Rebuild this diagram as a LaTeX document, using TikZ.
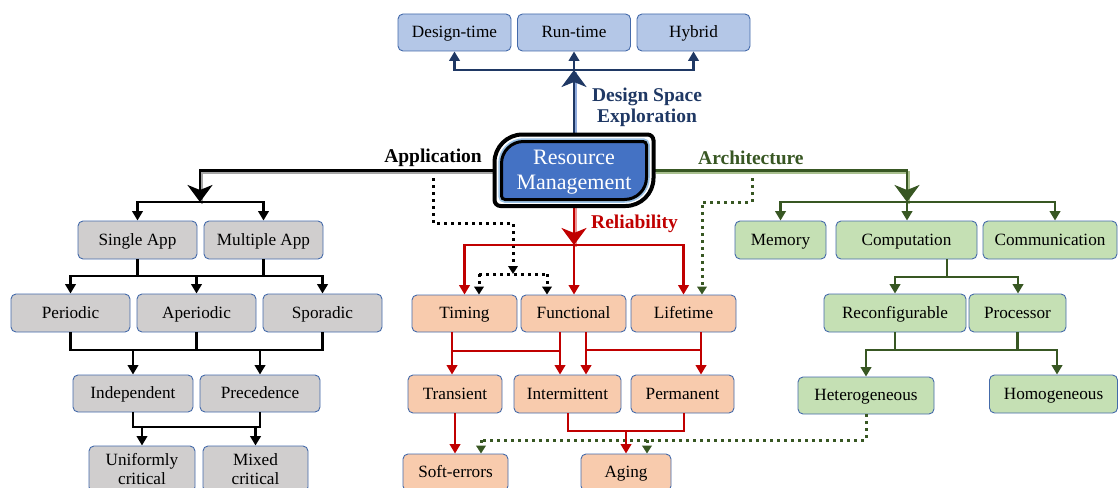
\documentclass[tikz,border=0pt]{standalone}
\usepackage{fontspec}
\setmainfont{Liberation Serif}
\usetikzlibrary{arrows.meta}

\definecolor{navy}{RGB}{31,56,100}
\definecolor{navylt}{RGB}{143,170,220}
\definecolor{rel}{RGB}{192,0,0}
\definecolor{rellt}{RGB}{235,150,150}
\definecolor{arch}{RGB}{56,87,35}
\definecolor{archlt}{RGB}{169,192,143}
\definecolor{applt}{RGB}{165,165,165}
\definecolor{edge}{RGB}{68,106,170}
\definecolor{fillblue}{HTML}{B4C7E7}
\definecolor{fillgray}{HTML}{D0CECE}
\definecolor{fillorange}{HTML}{F8CBAD}
\definecolor{fillgreen}{HTML}{C5E0B4}
\definecolor{rmblue}{HTML}{4472C4}
\definecolor{rmring}{RGB}{157,195,230}

\tikzset{
  tri/.tip={Triangle[width=10.5pt,length=9.5pt]},
  dtri/.tip={Triangle[width=9.5pt,length=8pt]},
  big/.tip={Stealth[width=25pt,length=17pt,inset=5pt]},
  boxbase/.style={draw=edge, line width=0.9pt, rounded corners=5pt,
    minimum height=37pt, inner sep=0pt, align=center,
    font=\fontsize{17.2}{19.5}\selectfont},
  box/.style={boxbase, text height=11.5pt, text depth=0.8pt},
  bluebox/.style={box, fill=fillblue},
  graybox/.style={box, fill=fillgray},
  orangebox/.style={box, fill=fillorange},
  greenbox/.style={box, fill=fillgreen},
  link/.style={line width=2.8pt, -tri},
  plainlink/.style={line width=2.8pt},
  twin/.style={line width=2.8pt, -big,
    preaction={draw=#1, line width=2.4pt, arrows=-,
      transform canvas={shift={(1.8,1.8)}}}},
  dotlink/.style={line width=3pt, dash pattern=on 3pt off 4pt, -dtri},
  dotline/.style={line width=3pt, dash pattern=on 3pt off 4pt},
  branchlabel/.style={font=\fontsize{19.5}{21}\selectfont\bfseries, inner sep=0pt}
}

\begin{document}
\begin{tikzpicture}[x=1pt,y=-1pt]
\useasboundingbox (0,0) rectangle (1118,487);

% ---------- boxes ----------
% design space exploration
\node[bluebox, minimum width=113pt] (dt) at (454.5,32.5) {Design-time};
\node[bluebox, minimum width=113pt] (rt) at (574,32.5) {Run-time};
\node[bluebox, minimum width=113pt] (hy) at (693.5,32.5) {Hybrid};

% application
\node[graybox, minimum width=119pt, minimum height=38pt] (sa) at (137.5,240) {Single App};
\node[graybox, minimum width=119pt, minimum height=38pt] (ma) at (263.5,240) {Multiple App};
\node[graybox, minimum width=119pt, minimum height=38pt] (pe) at (70.5,313) {Periodic};
\node[graybox, minimum width=119pt, minimum height=38pt] (ap) at (196.5,313) {Aperiodic};
\node[graybox, minimum width=119pt, minimum height=38pt] (sp) at (322.5,313) {Sporadic};
\node[graybox, minimum width=120pt] (ind) at (133,393.5) {Independent};
\node[graybox, minimum width=120pt] (pre) at (260,393.5) {Precedence};
\node[boxbase, fill=fillgray, minimum width=106pt, minimum height=46pt] (uc) at (142,469) {Uniformly\\critical};
\node[boxbase, fill=fillgray, minimum width=105pt, minimum height=46pt] (mc) at (255.5,469) {Mixed\\critical};

% reliability
\node[orangebox, minimum width=105pt] (ti) at (464.5,313.5) {Timing};
\node[orangebox, minimum width=105pt] (fu) at (573.5,313.5) {Functional};
\node[orangebox, minimum width=105pt] (li) at (683.5,313.5) {Lifetime};
\node[orangebox, minimum width=94pt, minimum height=38pt] (tr) at (455,394) {Transient};
\node[orangebox, minimum width=107pt, minimum height=38pt] (im) at (567.5,394) {Intermittent};
\node[orangebox, minimum width=103pt, minimum height=38pt] (pm) at (682.5,394) {Permanent};
\node[orangebox, minimum width=105pt] (se) at (455.5,472.5) {Soft-errors};
\node[orangebox, minimum width=90pt] (ag) at (626,472.5) {Aging};

% architecture
\node[greenbox, minimum width=91pt, minimum height=38pt] (me) at (780.5,240) {Memory};
\node[greenbox, minimum width=141pt, minimum height=38pt] (co) at (906.5,240) {Computation};
\node[greenbox, minimum width=134pt, minimum height=38pt] (cm) at (1050,240) {Communication};
\node[greenbox, minimum width=142pt, minimum height=38pt] (rc) at (895,313) {Reconfigurable};
\node[greenbox, minimum width=97pt, minimum height=38pt] (pr) at (1017.5,313) {Processor};
\node[greenbox, minimum width=136pt] (he) at (866,395.5) {Heterogeneous};
\node[greenbox, minimum width=128pt, minimum height=38pt] (ho) at (1053.5,394) {Homogeneous};

% central node (its outline is drawn further below)
\node[minimum width=159pt, minimum height=71.5pt, inner sep=0pt] (rm) at (574,170.5) {};

% ---------- dotted cross links ----------
\coordinate (d1) at (433,171);
\coordinate (d2) at (433,223);
\coordinate (d3) at (513,223);
\coordinate (d4) at (513,274);
\coordinate (d5) at (479,274);
\coordinate (d6) at (547,274);
\draw[dotlink, black] (d1) -- (d2) -- (d3) -- (d4);
\draw[dotline, black] (d5) -- (d6);
\draw[dotlink, black] (d5) -- (ti.north -| d5);
\draw[dotlink, black] (d6) -- (fu.north -| d6);

\coordinate (g1) at (752,171);
\coordinate (g2) at (752,202);
\coordinate (g3) at (702,202);
\draw[dotlink, arch] (g1) -- (g2) -- (g3) -- (li.north -| g3);

\coordinate (g4) at (866,440);
\coordinate (g5) at (481,440);
\coordinate (g6) at (647,440);
\draw[dotline, arch] (he.south) -- (g4) -- (g5);
\draw[dotlink, arch] (g5) -- (se.north -| g5);
\draw[dotlink, arch] (g6) -- (ag.north -| g6);

% ---------- design space exploration ----------
\coordinate (dsej) at (574,70);
\draw[twin=navylt, navy] (rm.north) -- (dsej);
\draw[link, navy] (dsej) -- (rt.south);
\draw[link, navy] (dsej) -| (dt.south);
\draw[link, navy] (dsej) -| (hy.south);
\node[branchlabel, navy, align=center] (dselabel) at (647,107.5) {Design Space\\Exploration};

% ---------- application ----------
\coordinate (appj) at (200,202);
\draw[twin=applt, black] (rm.west) -| (appj);
\draw[link, black] (appj) -| (sa.north);
\draw[link, black] (appj) -| (ma.north);
\node[branchlabel, black, anchor=east] (applabel) at (482,158) {Application};

\coordinate (b2) at (196.5,276);
\draw[plainlink, black] (sa.south) -- (sa.south |- b2);
\draw[plainlink, black] (ma.south) -- (ma.south |- b2);
\draw[link, black] (b2) -| (pe.north);
\draw[link, black] (b2) -| (sp.north);
\draw[link, black] (b2) -- (ap.north);

\coordinate (b3) at (196.5,350);
\draw[plainlink, black] (pe.south) |- (sp.south |- b3) -- (sp.south);
\draw[plainlink, black] (ap.south) -- (b3);
\draw[link, black] (ind.north |- b3) -- (ind.north);
\draw[link, black] (pre.north |- b3) -- (pre.north);

\coordinate (b4) at (196,427);
\draw[plainlink, black] (ind.south) |- (b4) -| (pre.south);
\draw[link, black] (uc.north |- b4) -- (uc.north);
\draw[link, black] (mc.north |- b4) -- (mc.north);

% ---------- reliability ----------
\coordinate (relj) at (574,245);
\draw[twin=rellt, rel] (rm.south) -- (relj);
\draw[link, rel] (relj) -| (ti.north);
\draw[link, rel] (relj) -- (relj |- fu.north);
\draw[link, rel] (relj) -| (li.north);
\node[branchlabel, rel, anchor=west] (rellabel) at (591,224) {Reliability};

\coordinate (r1) at (452,351);
\coordinate (r2) at (560,351);
\draw[plainlink, rel] (ti.south -| r1) -- (r1) -- (r2);
\draw[link, rel] (r1) -- (tr.north -| r1);
\draw[link, rel] (fu.south -| r2) -- (im.north -| r2);

\coordinate (r3) at (586,350);
\coordinate (r4) at (701,350);
\draw[plainlink, rel] (r3) -- (r4) -- (li.south -| r4);
\draw[link, rel] (fu.south -| r3) -- (im.north -| r3);
\draw[link, rel] (r4) -- (pm.north -| r4);

\draw[link, rel] (tr.south) -- (tr.south |- se.north);

\coordinate (r5) at (568,431);
\coordinate (r6) at (684,431);
\draw[plainlink, rel] (im.south -| r5) -- (r5) -- (r6) -- (pm.south -| r6);
\draw[link, rel] (ag.north |- r5) -- (ag.north);

% ---------- architecture ----------
\coordinate (archj) at (907,202);
\coordinate (a3) at (1055,202);
\draw[twin=archlt, arch] (rm.east) -| (archj);
\draw[link, arch] (archj) -| (me.north);
\draw[link, arch] (archj) -- (archj |- co.north);
\draw[link, arch] (archj) -- (a3) -- (a3 |- cm.north);
\node[branchlabel, arch, anchor=west] (archlabel) at (698,158) {Architecture};

\coordinate (c1) at (947,277);
\coordinate (c2) at (895,277);
\coordinate (c3) at (1018,277);
\draw[plainlink, arch] (co.south -| c1) -- (c1);
\draw[link, arch] (c1) -- (c2) -- (rc.north -| c2);
\draw[link, arch] (c1) -- (c3) -- (pr.north -| c3);

\coordinate (h1) at (866,350);
\coordinate (h2) at (1057,350);
\draw[plainlink, arch] (rc.south) -- (rc.south |- h1);
\draw[plainlink, arch] (pr.south) -- (pr.south |- h1);
\draw[link, arch] (rc.south |- h1) -- (h1) -- (he.north -| h1);
\draw[link, arch] (rc.south |- h1) -- (h2) -- (ho.north -| h2);

% ---------- central resource management node ----------
% outer ring: large rounding top-left and bottom-right
\draw[black, line width=4pt, fill=white]
  (522.5,134.5) -- (647.5,134.5)
  .. controls (650.8,134.5) and (653.5,137.2) .. (653.5,140.5)
  -- (653.5,178)
  .. controls (653.5,193.5) and (641,206) .. (625.5,206)
  -- (500.5,206)
  .. controls (497.2,206) and (494.5,203.3) .. (494.5,200)
  -- (494.5,162.5)
  .. controls (494.5,147) and (507,134.5) .. (522.5,134.5) -- cycle;
% inner body
\draw[black, line width=3pt, fill=rmblue,
      preaction={draw=rmring, line width=6.5pt}]
  (523.5,141.5) -- (643,141.5)
  .. controls (644.9,141.5) and (646.5,143.1) .. (646.5,145)
  -- (646.5,177.5)
  .. controls (646.5,189.7) and (636.7,199.5) .. (624.5,199.5)
  -- (505,199.5)
  .. controls (503.1,199.5) and (501.5,197.9) .. (501.5,196)
  -- (501.5,163.5)
  .. controls (501.5,151.3) and (511.3,141.5) .. (523.5,141.5) -- cycle;
\node[text=white, align=center, inner sep=0pt,
      font=\fontsize{22}{24.5}\selectfont] (rmtext) at (574,172) {Resource\\Management};

\end{tikzpicture}
\end{document}
